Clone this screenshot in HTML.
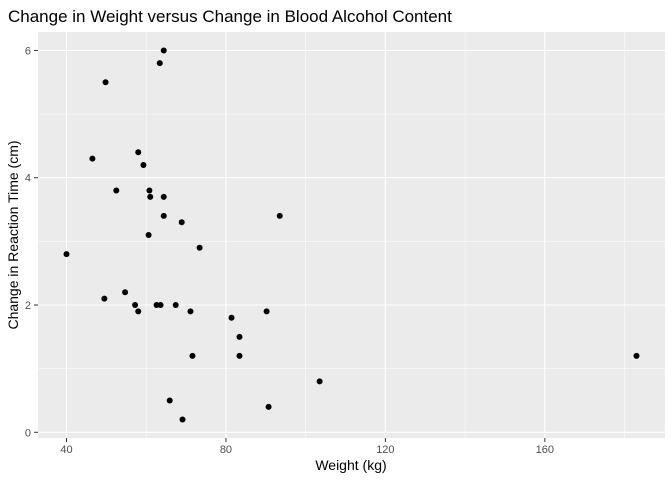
<!DOCTYPE html>
<html><head><meta charset="utf-8"><style>
body{margin:0;background:#fff;font-family:"Liberation Sans",Arial,sans-serif}
</style></head><body>
<svg id="chart" width="672" height="480" xmlns="http://www.w3.org/2000/svg" font-family="Liberation Sans, Arial, sans-serif">
<text x="8" y="22" font-size="17" fill="#000">Change in Weight versus Change in Blood Alcohol Content</text>
<rect x="38" y="32" width="627" height="406" fill="#ebebeb"/>
<g id="grid"></g><g id="axes"></g><g id="points"></g>
<text x="351" y="470" font-size="14" text-anchor="middle" fill="#000">Weight (kg)</text>
<text transform="translate(18,235) rotate(-90)" font-size="14" text-anchor="middle" fill="#000">Change in Reaction Time (cm)</text>
</svg>
<script>
const weights=[40,49.8,46.5,49.5,52.5,54.7,57.2,58,58,59.3,60.6,60.8,61,62.6,63.6,63.4,64.4,64.4,64.4,65.9,67.4,68.9,69.1,71.1,71.6,73.4,81.4,83.4,83.4,90.2,90.7,93.5,103.5,183];
const reaction=[2.8,5.5,4.3,2.1,3.8,2.2,2.0,1.9,4.4,4.2,3.1,3.8,3.7,2.0,2.0,5.8,6.0,3.7,3.4,0.5,2.0,3.3,0.2,1.9,1.2,2.9,1.8,1.5,1.2,1.9,0.4,3.4,0.8,1.2];
const xTicks=[40,80,120,160];
const yTicks=[0,2,4,6];
const xMinor=[60,100,140,180];
const yMinor=[1,3,5];
const NS="http://www.w3.org/2000/svg";
const X0=38,X1=665,Y0=438,Y1=32;
const xmin=32.85,xmax=190.15,ymin=-0.09,ymax=6.29;
const sx=v=>X0+(v-xmin)/(xmax-xmin)*(X1-X0);
const sy=v=>Y0-(v-ymin)/(ymax-ymin)*(Y0-Y1);
function mk(tag,attrs,parent){const e=document.createElementNS(NS,tag);for(const k in attrs)e.setAttribute(k,attrs[k]);document.getElementById(parent).appendChild(e);return e;}
xMinor.forEach(v=>{const l=mk('line',{x1:sx(v),x2:sx(v),y1:Y1,y2:Y0,stroke:'#fff','stroke-width':0.5},'grid');

});
yMinor.forEach(v=>{const l=mk('line',{x1:X0,x2:X1,y1:sy(v),y2:sy(v),stroke:'#fff','stroke-width':0.5},'grid');

});
xTicks.forEach(v=>{const l=mk('line',{x1:sx(v),x2:sx(v),y1:Y1,y2:Y0,stroke:'#fff','stroke-width':1.1},'grid');


const t=mk('line',{x1:sx(v),x2:sx(v),y1:Y0,y2:Y0+4,stroke:'#333','stroke-width':1},'axes');


const tx=mk('text',{x:sx(v),y:Y0+15,'font-size':11,'text-anchor':'middle',fill:'#4d4d4d'},'axes');tx.textContent=v;

});
yTicks.forEach(v=>{const l=mk('line',{x1:X0,x2:X1,y1:sy(v),y2:sy(v),stroke:'#fff','stroke-width':1.1},'grid');


const t=mk('line',{x1:X0-4,x2:X0,y1:sy(v),y2:sy(v),stroke:'#333','stroke-width':1},'axes');


const tx=mk('text',{x:X0-7,y:sy(v)+4,'font-size':11,'text-anchor':'end',fill:'#4d4d4d'},'axes');tx.textContent=v;

});
weights.forEach((w,i)=>{const c=mk('circle',{cx:sx(w),cy:sy(reaction[i]),r:3,fill:'#000'},'points');

});
</script>
</body></html>
